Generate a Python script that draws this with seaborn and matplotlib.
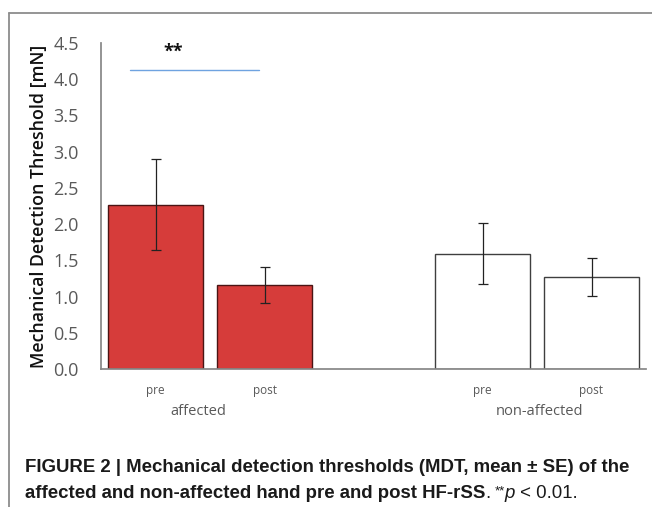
import matplotlib
matplotlib.use("Agg")
import matplotlib.pyplot as plt
import seaborn as sns
import pandas as pd
import numpy as np
from matplotlib.lines import Line2D

# ---- data ----
slots = ["aff_pre", "aff_post", "gap", "non_pre", "non_post"]
slot_labels = ["pre", "post", "", "pre", "post"]
groups = ["affected", "affected", "non-affected", "non-affected"]
conditions = ["aff_pre", "aff_post", "non_pre", "non_post"]
means = [2.27, 1.16, 1.59, 1.27]
se = [0.63, 0.25, 0.42, 0.26]
group_names = ["affected", "non-affected"]
yticks = [0.0, 0.5, 1.0, 1.5, 2.0, 2.5, 3.0, 3.5, 4.0, 4.5]
sig_value = 4.13
sig_text = "**"

df = pd.DataFrame({"cond": conditions, "mean": means, "group": groups})

sns.set_theme(style="white")
plt.rcParams["font.family"] = ["Open Sans", "DejaVu Sans"]

fig = plt.figure(figsize=(6.52, 5.07), dpi=100)
ax = fig.add_axes([101/652, 1-369/507, (646-101)/652, (369-43)/507])

sns.barplot(data=df, x="cond", y="mean", hue="group", order=slots,
            palette={"affected": "#D63C3A", "non-affected": "#FFFFFF"},
            saturation=1, errorbar=None, width=0.88, dodge=False, legend=False,
            ax=ax, linewidth=1.0)
for bar in ax.patches:
    fc = bar.get_facecolor()
    if fc[0] > 0.9 and fc[1] > 0.9:
        bar.set_edgecolor("#3F3F3F")
    else:
        bar.set_edgecolor("#4A1414")

xpos = [slots.index(c) for c in conditions]
ax.errorbar(xpos, means, yerr=se, fmt="none", ecolor="#222222",
            elinewidth=0.9, capsize=3.5, capthick=0.9)

ax.set_xlim(-0.5, len(slots) - 0.5)
ax.set_ylim(0, 4.5)
ax.set_yticks(yticks)
ax.set_yticklabels([f"{v:.1f}" for v in yticks], fontsize=13, color="#595959")
ax.set_xticks(range(len(slots)))
ax.set_xticklabels(slot_labels, fontsize=8.5, color="#595959")
ax.tick_params(axis="x", pad=11, length=0)
ax.tick_params(axis="y", pad=16, length=0)
ax.set_xlabel("")
ax.set_ylabel("Mechanical Detection Threshold [mN]", fontsize=12.8,
              fontweight="semibold", color="#111111", labelpad=4)
for s in ["top", "right"]:
    ax.spines[s].set_visible(False)
ax.spines["left"].set_color("#868686")
ax.spines["bottom"].set_color("#868686")

# group labels
trans = ax.get_xaxis_transform()
ax.text(0.39, -0.13, group_names[0], transform=trans, ha="center", va="center",
        fontsize=10.5, color="#595959")
ax.text(3.52, -0.13, group_names[1], transform=trans, ha="center", va="center",
        fontsize=10.5, color="#595959")

# significance
ax.plot([-0.23, 0.95], [sig_value, sig_value], color="#6FA3E0", lw=1.0)
ax.text(0.16, 4.38, sig_text, ha="center", va="center", fontsize=13,
        fontweight="bold", color="#111111")

# frame lines
fig.add_artist(Line2D([9/652, 9/652], [0, 1-13/507], color="#8C8C8C", lw=1.3,
                      transform=fig.transFigure))
fig.add_artist(Line2D([9/652, 1], [1-13/507, 1-13/507], color="#8C8C8C", lw=1.3,
                      transform=fig.transFigure))

# caption
cap_font = ["Liberation Sans", "DejaVu Sans"]
fs = 13.4
fig.text(25/652, 1-467/507, "FIGURE 2 | Mechanical detection thresholds (MDT, mean \u00b1 SE) of the",
         fontsize=fs, fontweight="bold", family=cap_font, va="center", color="#1a1a1a")
renderer = fig.canvas.get_renderer()
x = 25
y = 1-493/507
pieces = [("affected and non-affected hand pre and post HF-rSS", dict(fontweight="bold"), 0),
          (".", {}, 4),
          ("**", dict(fontsize=9.5), 0),
          ("p", dict(style="italic"), 0),
          (" < 0.01.", {}, 0)]
for txt, kw, gap in pieces:
    kws = dict(fontsize=fs, family=cap_font, va="baseline", color="#1a1a1a")
    kws.update(kw)
    yy = y - 5/507
    if txt == "**":
        yy = y - 1/507
    t = fig.text(x/652, yy, txt, **kws)
    bb = t.get_window_extent(renderer)
    x = bb.x1 + gap

fig.savefig("out.png", dpi=100)
